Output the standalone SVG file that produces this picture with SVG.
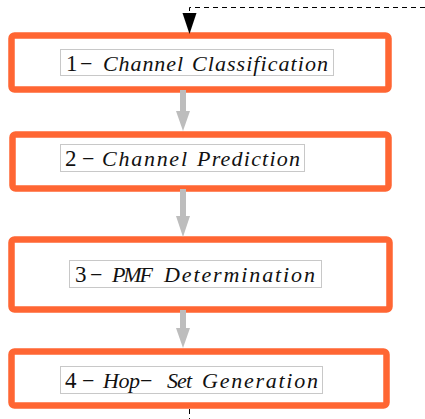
<svg xmlns="http://www.w3.org/2000/svg" width="425" height="419" viewBox="0 0 425 419">
  <style>
    .box { fill: #ffffff; stroke: #ff6633; stroke-width: 6.5; }
    .tag { fill: #ffffff; stroke: #c8c8c8; stroke-width: 1; }
    .flow { stroke: #bdbdbd; stroke-width: 6; fill: none; }
    .head { fill: #bdbdbd; }
    .loop { stroke: #000000; stroke-width: 1; stroke-dasharray: 5 4; fill: none; }
  </style>

  <!-- step boxes; labels inherit the serif face from each group -->
  <g id="step1" font-family="Liberation Serif" font-size="22" fill="#111111">
    <rect class="box" x="11.5" y="35.5" width="377" height="54" rx="3"/>
    <rect class="tag" x="60.5" y="49.5" width="273" height="26"/>
    <text x="66" y="71" font-size="23">1</text>
    <text x="80" y="71">−</text>
    <text x="103" y="71" font-style="italic" textLength="80" lengthAdjust="spacing">Channel</text>
    <text x="192" y="71" font-style="italic" textLength="136" lengthAdjust="spacing">Classification</text>
  </g>

  <g id="step2" font-family="Liberation Serif" font-size="22" fill="#111111">
    <rect class="box" x="12.5" y="134.5" width="376" height="54" rx="3"/>
    <rect class="tag" x="60.5" y="144.5" width="244" height="27"/>
    <text x="65" y="166" font-size="23">2</text>
    <text x="82" y="166">−</text>
    <text x="102" y="166" font-style="italic" textLength="85" lengthAdjust="spacing">Channel</text>
    <text x="197" y="166" font-style="italic" textLength="103" lengthAdjust="spacing">Prediction</text>
  </g>

  <g id="step3" font-family="Liberation Serif" font-size="22" fill="#111111">
    <rect class="box" x="11.5" y="239.5" width="378" height="70" rx="3"/>
    <rect class="tag" x="69.5" y="260.5" width="252" height="27"/>
    <text x="75" y="282" font-size="23">3</text>
    <text x="90" y="282">−</text>
    <text x="112" y="282" font-style="italic" textLength="41" lengthAdjust="spacing">PMF</text>
    <text x="164" y="282" font-style="italic" textLength="151" lengthAdjust="spacing">Determination</text>
  </g>

  <g id="step4" font-family="Liberation Serif" font-size="22" fill="#111111">
    <rect class="box" x="11.5" y="351.5" width="375" height="54" rx="3"/>
    <rect class="tag" x="60.5" y="366.5" width="262" height="27"/>
    <text x="65" y="388" font-size="23">4</text>
    <text x="82" y="388">−</text>
    <text x="103" y="388" font-style="italic" textLength="37" lengthAdjust="spacing">Hop</text>
    <text x="140" y="388">−</text>
    <text x="167" y="388" font-style="italic" textLength="25" lengthAdjust="spacing">Set</text>
    <text x="202" y="388" font-style="italic" textLength="116" lengthAdjust="spacing">Generation</text>
  </g>

  <!-- connectors -->
  <g id="connectors">
    <path class="flow" d="M183 90 V112"/>
    <polygon class="head" points="176,111 190,111 183,131"/>
    <path class="flow" d="M183 189 V217"/>
    <polygon class="head" points="176,216 190,216 183,237"/>
    <path class="flow" d="M183 310 V329"/>
    <polygon class="head" points="176,328 190,328 183,348"/>

    <!-- feedback loop -->
    <path class="loop" d="M425 7.5 H189.5 V14"/>
    <polygon fill="#000000" points="182.5,13 196.5,13 189.5,34"/>
    <path class="loop" d="M189.5 409 V419"/>
  </g>
</svg>
